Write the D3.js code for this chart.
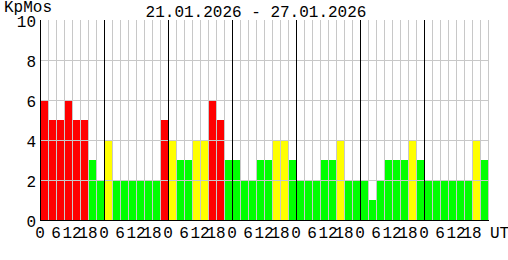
<!DOCTYPE html>
<html>
<head>
<meta charset="utf-8">
<script src="https://cdn.jsdelivr.net/npm/d3@7"></script>
<style>
  body { margin: 0; background: #fff; }
  text { font-family: "Liberation Mono", "DejaVu Sans Mono", monospace; fill: #000; }
</style>
</head>
<body>
<div id="chart"></div>
<script>
// chart data
var title = "21.01.2026 - 27.01.2026";
var days = ["21.01", "22.01", "23.01", "24.01", "25.01", "26.01", "27.01"];
var hourLabels = [0, 6, 12, 18];
var yTicks = [0, 2, 4, 6, 8, 10];
// Kp, 3-hour intervals, 8 per day
var kp = [
  6, 5, 5, 6, 5, 5, 3, 2,
  4, 2, 2, 2, 2, 2, 2, 5,
  4, 3, 3, 4, 4, 6, 5, 3,
  3, 2, 2, 3, 3, 4, 4, 3,
  2, 2, 2, 3, 3, 4, 2, 2,
  2, 1, 2, 3, 3, 3, 4, 3,
  2, 2, 2, 2, 2, 2, 4, 3
];

var W = 508, H = 260;
var margin = {top: 20, right: 20, bottom: 40, left: 40},
    width = W - margin.left - margin.right,
    height = H - margin.top - margin.bottom;

var svg = d3.select("#chart")
  .append("svg")
    .attr("width", W)
    .attr("height", H);

var g = svg.append("g")
    .attr("transform", "translate(" + margin.left + "," + margin.top + ")");

// x: slot index (3 hour steps), y: Kp
var x = d3.scaleLinear().domain([0, kp.length]).range([0, width]);
var y = d3.scaleLinear().domain([0, 10]).range([height, 0]);

function kpColor(v) {
  if (v >= 5) return "#ff0000";
  if (v >= 4) return "#ffff00";
  return "#00ff00";
}

// bars
g.selectAll(".bar")
  .data(kp)
  .enter()
  .append("rect")
    .attr("x", function(d, i) { return x(i); })
    .attr("y", function(d) { return y(d); })
    .attr("width", x(1) - x(0))
    .attr("height", function(d) { return y(0) - y(d); })
    .style("fill", function(d) { return kpColor(d); });

// vertical grid, one line per slot
g.selectAll(".vgrid")
  .data(d3.range(1, kp.length + 1))
  .enter()
  .append("line")
    .attr("x1", function(d) { return x(d) + 0.5; })
    .attr("x2", function(d) { return x(d) + 0.5; })
    .attr("y1", y(10))
    .attr("y2", y(0))
    .style("stroke", "#c8c8c8")
    .style("stroke-width", 1);

// horizontal grid
g.selectAll(".hgrid")
  .data(yTicks.filter(function(d) { return d > 0 && d < 10; }))
  .enter()
  .append("line")
    .attr("x1", 0)
    .attr("x2", width)
    .attr("y1", function(d) { return y(d) + 0.5; })
    .attr("y2", function(d) { return y(d) + 0.5; })
    .style("stroke", "#c8c8c8")
    .style("stroke-width", 1);

// day separators
g.selectAll(".dayline")
  .data(d3.range(1, days.length))
  .enter()
  .append("line")
    .attr("x1", function(d) { return x(d * 8) + 0.5; })
    .attr("x2", function(d) { return x(d * 8) + 0.5; })
    .attr("y1", y(10))
    .attr("y2", y(0))
    .style("stroke", "#000")
    .style("stroke-width", 1);

// axes lines
g.append("line")
  .attr("x1", 0.5).attr("x2", 0.5)
  .attr("y1", y(10)).attr("y2", y(0) + 1)
  .style("stroke", "#000");
g.append("line")
  .attr("x1", 0).attr("x2", width + 1)
  .attr("y1", y(0) + 0.5).attr("y2", y(0) + 0.5)
  .style("stroke", "#000");

// y tick labels
g.selectAll(".ylab")
  .data(yTicks)
  .enter()
  .append("text")
    .attr("x", -4)
    .attr("y", function(d) { return y(d) + 7; })
    .style("text-anchor", "end")
    .style("font-size", "16px")
    .text(function(d) { return d; });

// x tick labels: hours of each day
var xl = [];
days.forEach(function(day, di) {
  hourLabels.forEach(function(h) { xl.push({slot: di * 8 + h / 3, h: h}); });
});
g.selectAll(".xlab")
  .data(xl)
  .enter()
  .append("text")
    .attr("x", function(d) { return x(d.slot); })
    .attr("y", height + 18)
    .style("text-anchor", "middle")
    .style("font-size", "16px")
    .text(function(d) { return d.h; });

g.append("text")
  .attr("x", width + 2)
  .attr("y", height + 18)
  .style("font-size", "16px")
  .text("UT");

// titles
svg.append("text")
  .attr("x", 4).attr("y", 12)
  .style("font-size", "16px")
  .text("KpMos");
svg.append("text")
  .attr("x", 256).attr("y", 17)
  .style("text-anchor", "middle")
  .style("font-size", "16px")
  .text(title);
</script>
</body>
</html>
